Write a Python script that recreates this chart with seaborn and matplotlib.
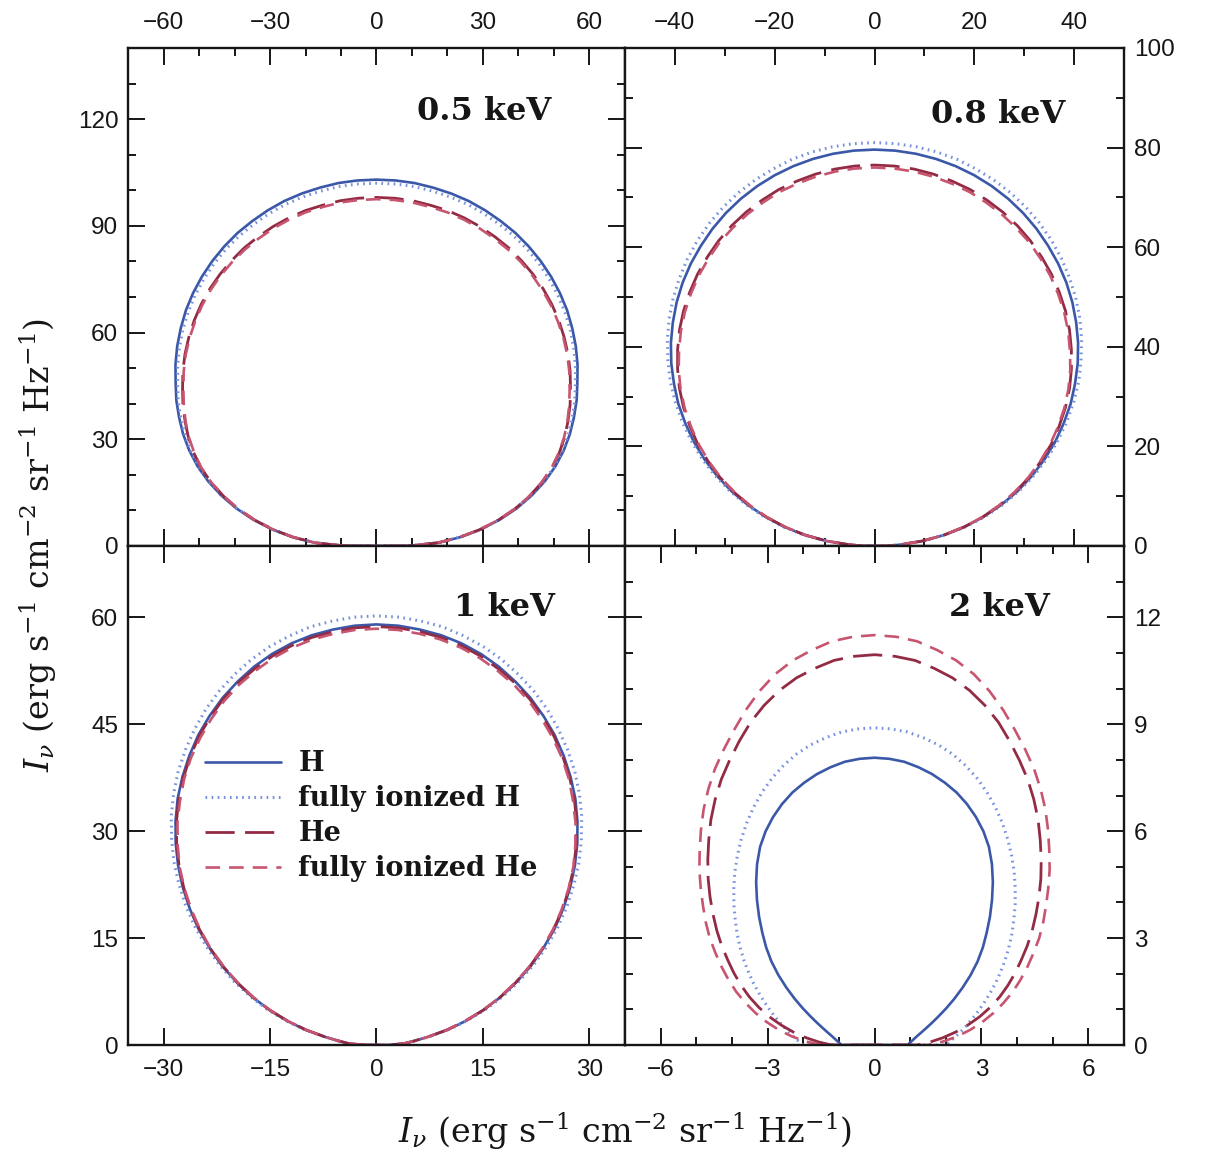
import numpy as np
import pandas as pd
import matplotlib
matplotlib.use("Agg")
import matplotlib.pyplot as plt
from matplotlib.ticker import MultipleLocator, NullLocator
import seaborn as sns

# Emission angle from the surface normal (degrees), one side of the pattern
ANGLES = list(range(0, 91, 3))

# Specific intensity I_nu(theta), erg s^-1 cm^-2 sr^-1 Hz^-1
# 0.5 keV
I05_H = [103.0, 102.9, 102.6, 102.0, 101.3, 100.4, 99.2, 97.8, 96.3, 94.5, 92.5,
         90.3, 87.9, 85.3, 82.4, 79.4, 76.2, 72.8, 69.7, 66.3, 62.9, 59.2, 55.2,
         50.8, 46.0, 40.9, 35.4, 29.7, 23.7, 17.4, 8.8]
I05_HFI = [102.0, 101.9, 101.6, 101.0, 100.3, 99.4, 98.2, 96.8, 95.3, 93.6, 91.6,
           89.4, 87.0, 84.4, 81.6, 78.6, 75.4, 72.1, 69.0, 65.7, 62.3, 58.7, 54.8,
           50.4, 45.7, 40.6, 35.2, 29.5, 23.5, 17.3, 8.8]
I05_HE = [98.0, 97.9, 97.6, 97.0, 96.4, 95.5, 94.4, 93.1, 91.7, 90.0, 88.2,
          86.2, 84.0, 81.6, 79.0, 76.3, 73.4, 70.3, 67.4, 64.3, 61.2, 57.8, 54.1,
          49.9, 45.3, 40.4, 35.1, 29.5, 23.6, 17.4, 8.8]
I05_HEFI = [97.5, 97.4, 97.1, 96.5, 95.9, 95.0, 93.9, 92.6, 91.2, 89.6, 87.8,
            85.8, 83.6, 81.2, 78.7, 76.0, 73.1, 70.0, 67.1, 64.1, 61.0, 57.6, 54.0,
            49.8, 45.2, 40.3, 35.0, 29.4, 23.5, 17.3, 8.8]

# 0.8 keV
I08_H = [79.6, 79.5, 79.2, 78.7, 78.0, 77.1, 76.0, 74.7, 73.2, 71.5, 69.6,
         67.6, 65.4, 63.0, 60.4, 57.7, 54.8, 51.7, 48.6, 45.2, 41.8, 38.2, 34.5,
         30.7, 26.7, 22.6, 18.5, 14.2, 9.7, 5.1, 2.4]
I08_HFI = [81.0, 80.9, 80.6, 80.1, 79.4, 78.4, 77.3, 76.0, 74.5, 72.8, 70.9,
           68.8, 66.5, 64.1, 61.5, 58.7, 55.7, 52.7, 49.4, 46.0, 42.5, 38.9, 35.1,
           31.2, 27.2, 23.0, 18.8, 14.4, 9.9, 5.2, 2.5]
I08_HE = [76.5, 76.4, 76.1, 75.6, 74.9, 74.1, 73.0, 71.8, 70.4, 68.8, 67.0,
          65.1, 63.0, 60.8, 58.4, 55.8, 53.1, 50.3, 47.3, 44.1, 40.9, 37.4, 33.9,
          30.2, 26.3, 22.4, 18.3, 14.1, 9.7, 5.1, 2.4]
I08_HEFI = [76.0, 75.9, 75.6, 75.1, 74.4, 73.6, 72.5, 71.3, 69.9, 68.4, 66.6,
            64.7, 62.6, 60.4, 58.0, 55.4, 52.8, 50.0, 47.0, 43.8, 40.6, 37.2, 33.7,
            30.0, 26.2, 22.3, 18.2, 14.0, 9.7, 5.1, 2.4]

# 1 keV
I10_H = [59.0, 58.9, 58.6, 58.2, 57.6, 56.8, 55.8, 54.6, 53.3, 51.8, 50.2,
         48.4, 46.5, 44.5, 42.3, 40.0, 37.6, 35.1, 32.5, 29.9, 27.1, 24.4, 21.5,
         18.7, 15.8, 13.0, 10.2, 7.4, 5.3, 3.9, 1.8]
I10_HFI = [60.2, 60.1, 59.8, 59.4, 58.7, 57.9, 56.9, 55.7, 54.4, 52.9, 51.2,
           49.4, 47.5, 45.4, 43.2, 40.8, 38.4, 35.8, 33.2, 30.5, 27.7, 24.9, 22.0,
           19.1, 16.2, 13.2, 10.4, 7.5, 5.4, 4.0, 1.8]
I10_HE = [58.7, 58.6, 58.3, 57.9, 57.3, 56.5, 55.5, 54.4, 53.1, 51.6, 50.0,
          48.2, 46.3, 44.3, 42.1, 39.8, 37.4, 34.9, 32.4, 29.7, 27.0, 24.2, 21.4,
          18.6, 15.8, 12.9, 10.1, 7.4, 5.3, 3.9, 1.8]
I10_HEFI = [58.4, 58.3, 58.0, 57.6, 57.0, 56.2, 55.2, 54.1, 52.8, 51.3, 49.7,
            48.0, 46.1, 44.0, 41.9, 39.6, 37.3, 34.8, 32.2, 29.6, 26.9, 24.1, 21.3,
            18.5, 15.7, 12.9, 10.1, 7.4, 5.3, 3.9, 1.8]

# 2 keV
I20_H = [8.06, 8.04, 7.99, 7.89, 7.77, 7.62, 7.45, 7.24, 7.00, 6.73, 6.42,
         6.05, 5.65, 5.24, 4.84, 4.45, 4.09, 3.72, 3.33, 2.94, 2.58, 2.25, 1.96,
         1.72, 1.52, 1.36, 1.23, 1.13, 1.05, 0.98, 0.94]
I20_HFI = [8.90, 8.88, 8.83, 8.73, 8.61, 8.45, 8.25, 8.02, 7.76, 7.48, 7.18,
           6.87, 6.55, 6.23, 5.90, 5.58, 5.26, 4.96, 4.66, 4.37, 4.08, 3.81, 3.54,
           3.29, 3.06, 2.84, 2.64, 2.46, 2.29, 2.14, 2.00]
I20_HE = [10.95, 10.92, 10.85, 10.70, 10.53, 10.30, 10.02, 9.70, 9.33, 8.96, 8.60,
          8.21, 7.81, 7.39, 6.99, 6.60, 6.21, 5.83, 5.47, 5.11, 4.75, 4.42, 4.09,
          3.76, 3.41, 3.05, 2.67, 2.30, 1.92, 1.56, 1.20]
I20_HEFI = [11.50, 11.47, 11.39, 11.22, 11.03, 10.77, 10.44, 10.07, 9.68, 9.31, 8.95,
            8.56, 8.16, 7.74, 7.33, 6.95, 6.56, 6.19, 5.85, 5.51, 5.15, 4.81, 4.48,
            4.15, 3.80, 3.45, 3.09, 2.72, 2.34, 1.94, 1.50]

ENERGY_LABELS = ["0.5 keV", "0.8 keV", "1 keV", "2 keV"]
SERIES_NAMES = ["H", "fully ionized H", "He", "fully ionized He"]

sns.set_style("white")
plt.rcParams["font.family"] = ["Liberation Sans", "DejaVu Sans"]
plt.rcParams["mathtext.fontset"] = "dejavuserif"
plt.rcParams["lines.scale_dashes"] = False

INK = "#161616"
STYLES = {
    "H": dict(color="#3b58a8", lw=1.9, linestyle="-"),
    "fully ionized H": dict(color="#7590dc", lw=2.2, linestyle=(0, (1.2, 3.2))),
    "He": dict(color="#932b44", lw=2.0, linestyle=(0, (21, 7.5))),
    "fully ionized He": dict(color="#c8556f", lw=1.9, linestyle=(0, (10.5, 6.5))),
}


def polar_frame(values, name):
    """Closed polar outline: x = I sin(theta), y = I cos(theta), theta in [-90, 90]."""
    ang = np.radians(np.asarray(ANGLES, dtype=float))
    val = np.asarray(values, dtype=float)
    theta = np.concatenate([-ang[::-1], ang[1:], [-ang[-1]]])
    inten = np.concatenate([val[::-1], val[1:], [val[-1]]])
    return pd.DataFrame({"x": inten * np.sin(theta),
                         "y": inten * np.cos(theta),
                         "series": name})


PANELS = [
    dict(curves=[I05_H, I05_HFI, I05_HE, I05_HEFI], xlim=70, ylim=140,
         xmaj=30, xmin=10, ymaj=30, ymin=10, top=True, right=False,
         rect=[128, 48, 497, 498], lab=(0.852, 0.872)),
    dict(curves=[I08_H, I08_HFI, I08_HE, I08_HEFI], xlim=50, ylim=100,
         xmaj=20, xmin=10, ymaj=20, ymin=10, top=True, right=True,
         rect=[625, 48, 499, 498], lab=(0.882, 0.866)),
    dict(curves=[I10_H, I10_HFI, I10_HE, I10_HEFI], xlim=35, ylim=70,
         xmaj=15, xmin=None, ymaj=15, ymin=None, top=False, right=False,
         rect=[128, 546, 497, 499], lab=(0.859, 0.877)),
    dict(curves=[I20_H, I20_HFI, I20_HE, I20_HEFI], xlim=7, ylim=14,
         xmaj=3, xmin=1, ymaj=3, ymin=1, top=False, right=True,
         rect=[625, 546, 499, 499], lab=(0.852, 0.877)),
]

W, H = 1205, 1157
fig = plt.figure(figsize=(W / 100, H / 100), dpi=100)

axes = []
for idx, p in enumerate(PANELS):
    l, t, w, h = p["rect"]
    ax = fig.add_axes([l / W, 1 - (t + h) / H, w / W, h / H])
    axes.append(ax)
    for name, vals in zip(SERIES_NAMES, p["curves"]):
        df = polar_frame(vals, name)
        sns.lineplot(data=df, x="x", y="y", sort=False, estimator=None,
                     ax=ax, label=name, legend=False, **STYLES[name])
    ax.set_xlim(-p["xlim"], p["xlim"])
    ax.set_ylim(0, p["ylim"])
    ax.set_xlabel("")
    ax.set_ylabel("")
    ax.xaxis.set_major_locator(MultipleLocator(p["xmaj"]))
    ax.yaxis.set_major_locator(MultipleLocator(p["ymaj"]))
    ax.xaxis.set_minor_locator(MultipleLocator(p["xmin"]) if p["xmin"] else NullLocator())
    ax.yaxis.set_minor_locator(MultipleLocator(p["ymin"]) if p["ymin"] else NullLocator())
    ax.tick_params(which="both", direction="in", top=True, bottom=True,
                   left=True, right=True, width=1.4, colors=INK)
    ax.tick_params(which="major", length=12)
    ax.tick_params(which="minor", length=6)
    ax.tick_params(axis="x", labeltop=p["top"], labelbottom=not p["top"],
                   pad=10, labelsize=17.5)
    ax.tick_params(axis="y", labelleft=not p["right"], labelright=p["right"],
                   pad=7, labelsize=17.5)
    for s in ax.spines.values():
        s.set_linewidth(1.7)
        s.set_color(INK)
    ax.text(p["lab"][0], p["lab"][1], ENERGY_LABELS[idx], transform=ax.transAxes,
            ha="right", va="center", fontsize=23, family="DejaVu Serif",
            fontweight="bold", color=INK)
    ax.set_facecolor("white")

leg = axes[2].legend(loc="upper left", bbox_to_anchor=(0.155, 0.591),
                     frameon=False, borderpad=0, borderaxespad=0,
                     handlelength=2.8, handletextpad=0.65, labelspacing=0.3,
                     prop=dict(family="DejaVu Serif", size=19.5, weight="bold"))
for txt in leg.get_texts():
    txt.set_color(INK)

label = r"$I_\nu$ (erg s$^{-1}$ cm$^{-2}$ sr$^{-1}$ Hz$^{-1}$)"
fig.text(625 / W, 1 - 1131 / H, label, ha="center", va="center",
         fontsize=24, family="DejaVu Serif", color=INK)
fig.text(38 / W, 1 - 545 / H, label, ha="center", va="center", rotation=90,
         fontsize=24, family="DejaVu Serif", color=INK)

fig.savefig("out.png", dpi=100, facecolor="white")
